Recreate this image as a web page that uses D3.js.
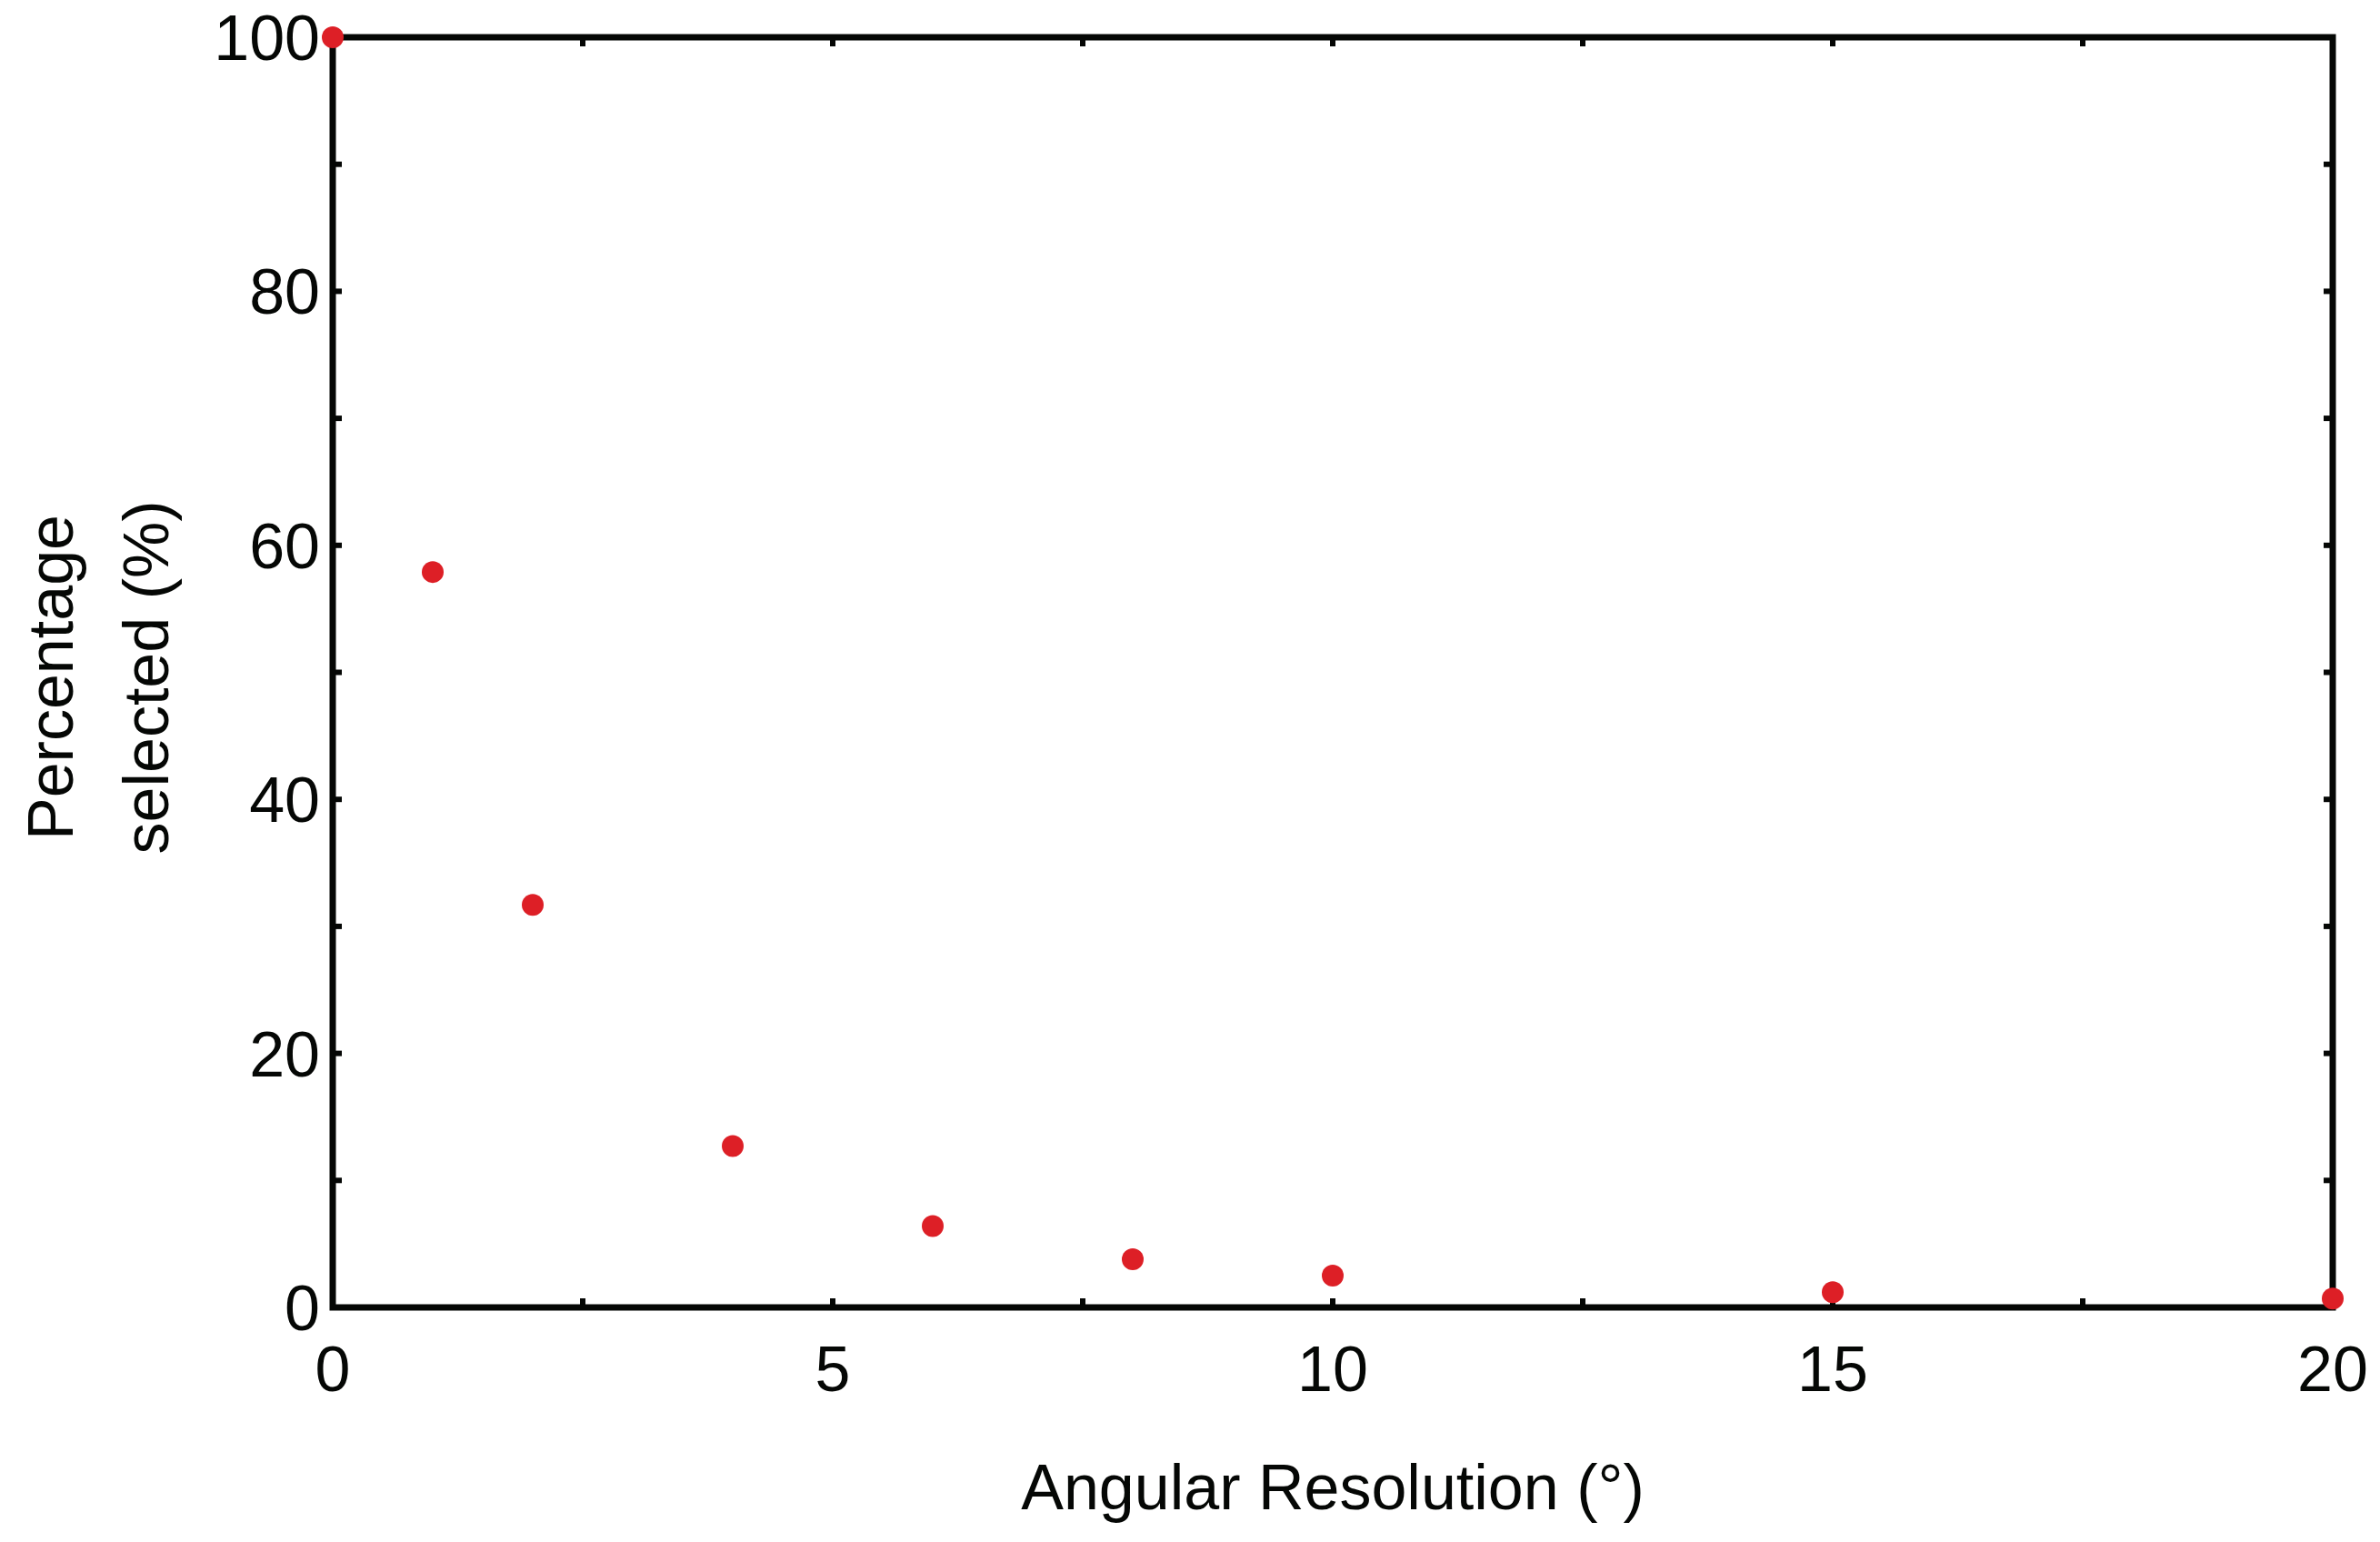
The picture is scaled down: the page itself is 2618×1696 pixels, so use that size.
<!DOCTYPE html><html><head><script src="https://cdn.jsdelivr.net/npm/d3@7"></script>
<style>body{margin:0;background:#fff}text{font-family:"Liberation Sans",Arial,sans-serif;fill:#050705}</style></head><body>
<script>
const xVals=[0,1,2,4,6,8,10,15,20];
const yVals=[100,57.9,31.7,12.7,6.4,3.8,2.5,1.2,0.7];
const xTicks=[0,5,10,15,20];
const yTicks=[0,20,40,60,80,100];
const W=2618,H=1696,L=366,T=41,R=2566,B=1438;
const svg=d3.select("body").append("svg").attr("width",W).attr("height",H);
const x=d3.scaleLinear().domain([0,20]).range([L,R]);
const y=d3.scaleLinear().domain([0,100]).range([B,T]);
const g=svg.append("g");
const minorX=d3.range(0,20.01,2.5), minorY=d3.range(0,100.01,10);
function ticks(vals,isX,len){
 vals.forEach(v=>{
  if(isX){const p=x(v);
   g.append("line").attr("x1",p).attr("x2",p).attr("y1",B).attr("y2",B-len).attr("stroke","#050705").attr("stroke-width",6);
   g.append("line").attr("x1",p).attr("x2",p).attr("y1",T).attr("y2",T+len).attr("stroke","#050705").attr("stroke-width",6);
  }else{const p=y(v);
   g.append("line").attr("y1",p).attr("y2",p).attr("x1",L).attr("x2",L+len).attr("stroke","#050705").attr("stroke-width",6);
   g.append("line").attr("y1",p).attr("y2",p).attr("x1",R).attr("x2",R-len).attr("stroke","#050705").attr("stroke-width",6);
  }});
}
ticks(minorX,true,10);ticks(minorY,false,10);
g.append("rect").attr("x",L).attr("y",T).attr("width",R-L).attr("height",B-T).attr("fill","none").attr("stroke","#050705").attr("stroke-width",7);
xTicks.forEach(v=>svg.append("text").attr("x",x(v)).attr("y",B+92).attr("text-anchor","middle").attr("font-size",70).text(v));
yTicks.forEach(v=>svg.append("text").attr("x",L-14).attr("y",y(v)+25).attr("text-anchor","end").attr("font-size",70).text(v));
svg.append("text").attr("x",(L+R)/2).attr("y",1660).attr("text-anchor","middle").attr("font-size",70).text("Angular Resolution (°)");
svg.append("text").attr("transform","translate(80,745) rotate(-90)").attr("text-anchor","middle").attr("font-size",70).text("Percentage");
svg.append("text").attr("transform","translate(185,745) rotate(-90)").attr("text-anchor","middle").attr("font-size",70).text("selected (%)");
svg.append("g").selectAll("circle").data(xVals.map((v,i)=>[v,yVals[i]])).join("circle")
 .attr("cx",d=>x(d[0])).attr("cy",d=>y(d[1])).attr("r",12).attr("fill","#dd1f26");
</script></body></html>
